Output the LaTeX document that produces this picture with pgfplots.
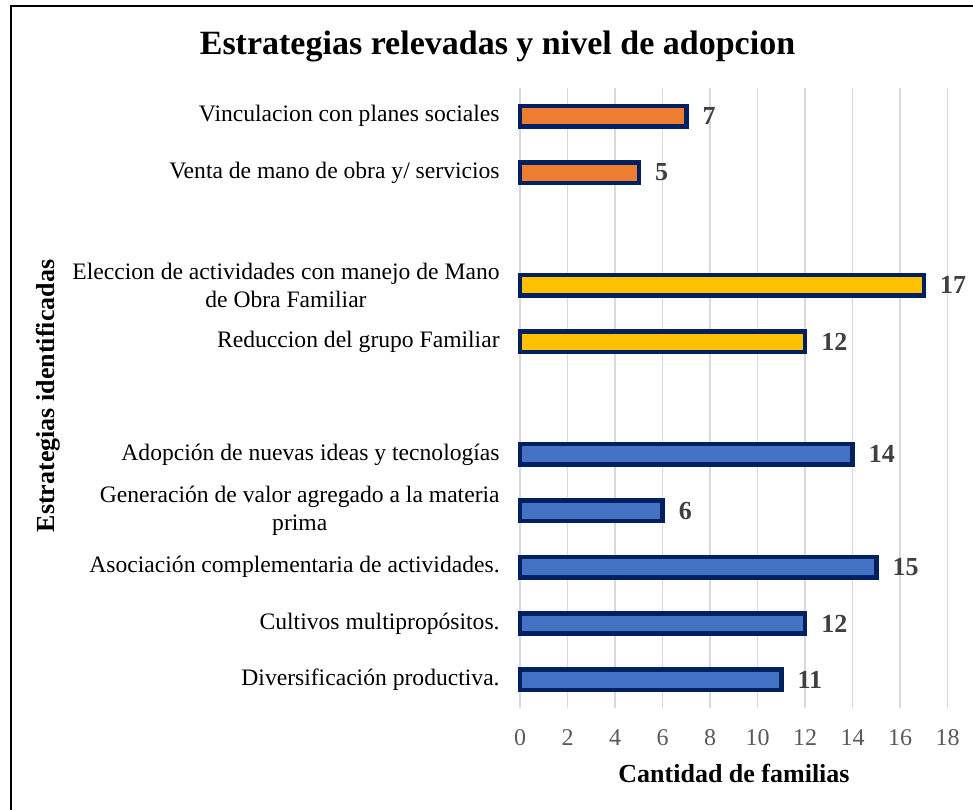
\documentclass[border=0pt]{standalone}
\usepackage{fontspec}
\setmainfont{Liberation Serif}
\usepackage{pgfplots}
\pgfplotsset{compat=1.18}
\definecolor{cOrange}{HTML}{ED7D31}
\definecolor{cYellow}{HTML}{FFC000}
\definecolor{cBlue}{HTML}{4472C4}
\definecolor{cNavy}{HTML}{002060}
\definecolor{cGrid}{HTML}{D9D9D9}
\definecolor{cTick}{HTML}{595959}
\definecolor{cVal}{HTML}{404040}
\begin{document}
\begin{tikzpicture}
\useasboundingbox (0,0) rectangle (486.5pt,-404.5pt);
\draw[line width=0.8pt, black] (5.5pt,-410pt) -- (5.5pt,-3pt) -- (490pt,-3pt);
\begin{axis}[
  at={(366.9pt,-199pt)}, anchor=center,
  scale only axis, width=213.8pt, height=310pt,
  xmin=0, xmax=18, ymin=0.5, ymax=11.5,
  xtick={0,2,...,18},
  ytick={1,2,3,4,5,7,8,10,11},
  yticklabels={Diversificación productiva.,Cultivos multipropósitos.,Asociación complementaria de actividades.,{Generación de valor agregado a la materia\\prima},Adopción de nuevas ideas y tecnologías,Reduccion del grupo Familiar,{Eleccion de actividades con manejo de Mano\\de Obra Familiar},Venta de mano de obra y/ servicios,Vinculacion con planes sociales},
  xmajorgrids, major grid style={color=cGrid, line width=0.7pt},
  axis line style={draw=none}, tick style={draw=none}, major tick length=0pt,
  /pgf/number format/assume math mode=true,
  xticklabel style={font=\fontsize{12}{14}\selectfont, text=cTick, anchor=north, inner sep=0pt, yshift=-10.5pt},
  yticklabel style={font=\fontsize{11.8}{14}\selectfont, align=center, anchor=east, inner sep=0pt, xshift=-10pt},
  xbar, bar width=10.2pt, bar shift=0pt,
  point meta=x,
  nodes near coords,
  every node near coord/.append style={font=\bfseries\fontsize{13}{15}\selectfont, text=cVal, anchor=west, inner sep=0pt, xshift=7pt},
  clip=false,
]
\addplot[fill=cOrange, draw=cNavy, line width=2.25pt] coordinates {(7,11) (5,10)};
\addplot[fill=cYellow, draw=cNavy, line width=2.25pt] coordinates {(17,8) (12,7)};
\addplot[fill=cBlue, draw=cNavy, line width=2.25pt] coordinates {(14,5) (6,4) (15,3) (12,2) (11,1)};
\end{axis}
\node[font=\bfseries\fontsize{17}{20}\selectfont, anchor=base] at (248.75pt,-27pt) {Estrategias relevadas y nivel de adopcion};
\node[font=\bfseries\fontsize{13}{15}\selectfont, anchor=base] at (367pt,-391pt) {Cantidad de familias};
\node[font=\bfseries\fontsize{13}{15}\selectfont, anchor=base, rotate=90] at (27pt,-198pt) {Estrategias identificadas};
\end{tikzpicture}
\end{document}
